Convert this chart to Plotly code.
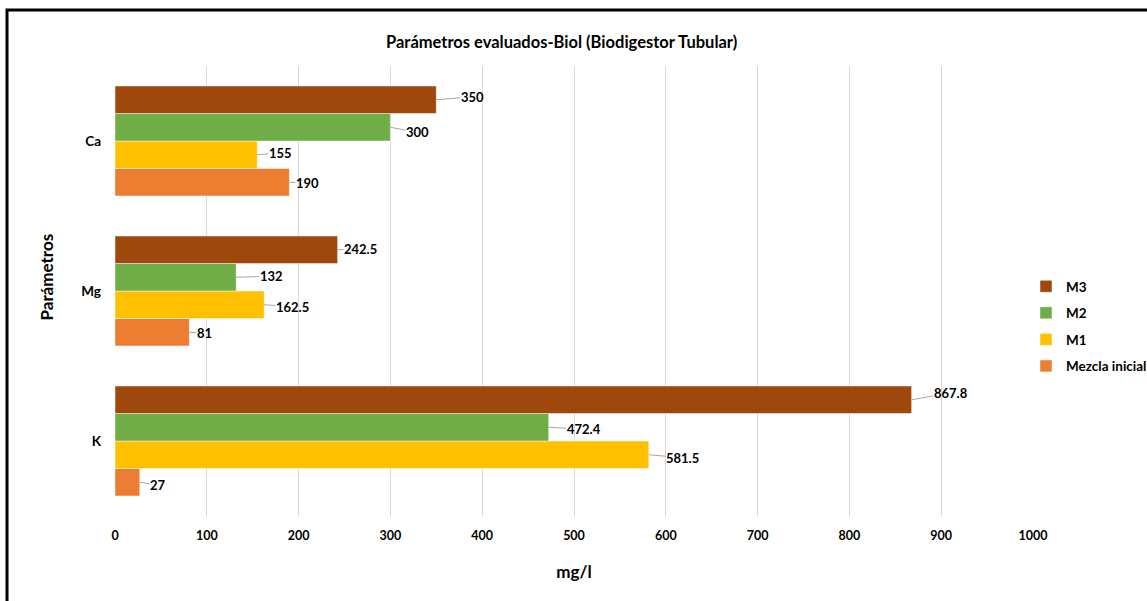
import plotly.graph_objects as go

# ---- data ----
categories = ["K", "Mg", "Ca"]          # bottom -> top
series_names = ["Mezcla inicial", "M1", "M2", "M3"]  # bottom -> top within group
mezcla_inicial = [27, 81, 190]
m1 = [581.5, 162.5, 155]
m2 = [472.4, 132, 300]
m3 = [867.8, 242.5, 350]
series_values = [mezcla_inicial, m1, m2, m3]
x_ticks = [0, 100, 200, 300, 400, 500, 600, 700, 800, 900, 1000]

# ---- styles ----
colors = ["#ED7D31", "#FFC000", "#70AD47", "#9E480E"]
FONT = "Lato"
TXT = "#000000"
bargap = 0.267
# label offsets (pixels) relative to bar end, per series per category
label_dx = [[18, 15, 18], [34, 28, 23], [35, 35, 27], [39, 23, 36]]
label_dy = [[3, 1, 1], [3, 2, -2], [2, -1, 5], [-7, -1, -3]]

W, H = 1147, 601
L, R, T, B = 115, 114, 66, 85
pw, ph = W - L - R, H - T - B

fig = go.Figure()
yidx = list(range(len(categories)))
nser = len(series_names)
for si, (name, vals, col) in enumerate(zip(series_names, series_values, colors)):
    fig.add_trace(go.Bar(
        y=yidx, x=vals, name=name, orientation="h",
        marker=dict(color=col, line=dict(color="rgba(255,255,255,0.6)", width=0.8)),
        legendgroup=name, legendrank=nser - si, hoverinfo="x+name",
    ))

bw = (1 - bargap) / nser
annotations = []
for si, vals in enumerate(series_values):
    off = -(1 - bargap) / 2 + bw * (si + 0.5)
    for ci, v in enumerate(vals):
        annotations.append(dict(
            x=v, y=ci + off, xref="x", yref="y",
            text=f"{v:g}", showarrow=True, arrowhead=0, arrowwidth=1,
            arrowcolor="#A6A6A6", ax=label_dx[si][ci], ay=label_dy[si][ci],
            axref="pixel", ayref="pixel", standoff=0, startstandoff=0,
            font=dict(family=FONT, size=13, color=TXT, weight="bold"), borderpad=0,
        ))

annotations.append(dict(
    text="<b>Parámetros evaluados-Biol (Biodigestor Tubular)</b>",
    x=(561 - L) / pw, y=(H - B - 42) / ph, xref="paper", yref="paper",
    showarrow=False, font=dict(family=FONT, size=16.5, color=TXT),
    xanchor="center", yanchor="middle",
))
annotations.append(dict(
    text="<b>Parámetros</b>", textangle=-90,
    x=(45.5 - L) / pw, y=(H - B - 277) / ph, xref="paper", yref="paper",
    showarrow=False, font=dict(family=FONT, size=17, color=TXT),
    xanchor="center", yanchor="middle",
))

fig.update_layout(
    width=W, height=H,
    margin=dict(l=L, r=R, t=T, b=B, autoexpand=False),
    paper_bgcolor="white", plot_bgcolor="white",
    barmode="group", bargap=bargap, bargroupgap=0,
    font=dict(family=FONT, size=12, color=TXT),
    showlegend=True,
    legend=dict(
        x=(1026 - L) / pw, y=(H - B - 271) / ph, xanchor="left", yanchor="top",
        traceorder="grouped", tracegroupgap=6,
        font=dict(family=FONT, size=13.5, color=TXT, weight="bold"),
        itemwidth=30, bgcolor="rgba(0,0,0,0)",
    ),
    xaxis=dict(
        range=[0, 1000], tickvals=x_ticks, ticktext=[str(t) for t in x_ticks],
        showgrid=True, gridcolor="#D9D9D9", gridwidth=1, zeroline=False,
        showline=False, ticks="", ticklabelstandoff=10,
        tickfont=dict(family=FONT, size=12.5, color=TXT, weight="bold"),
        title=dict(text="<b>mg/l</b>", font=dict(family=FONT, size=17, color=TXT), standoff=24),
        fixedrange=True,
    ),
    yaxis=dict(
        range=[-0.5, len(categories) - 0.5], tickvals=yidx, ticktext=categories,
        showgrid=False, zeroline=False, showline=False, ticks="",
        ticklabelstandoff=13,
        tickfont=dict(family=FONT, size=13.5, color=TXT, weight="bold"),
        fixedrange=True,
    ),
    annotations=annotations,
    shapes=[dict(
        type="rect", xref="paper", yref="paper",
        x0=(7 - L) / pw, x1=(W + 20 - L) / pw,
        y0=(H - B - (H + 20)) / ph, y1=(H - B - 10) / ph,
        line=dict(color="black", width=3), fillcolor="rgba(0,0,0,0)", layer="above",
    )],
)

fig.write_html("out.html", config={"displayModeBar": False})
